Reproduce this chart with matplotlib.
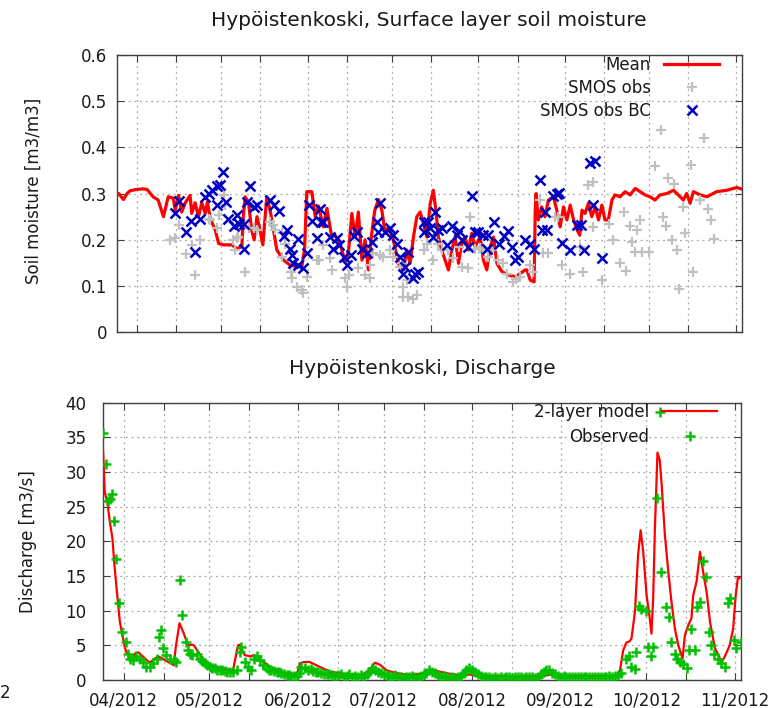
import datetime
import numpy as np
import matplotlib
matplotlib.use("Agg")
import matplotlib.pyplot as plt
import matplotlib.dates as mdates

plt.rcParams['font.family'] = ['DejaVu Sans']
plt.rcParams['font.size'] = 12

# x values are days since 1 April 2012
start = mdates.date2num(datetime.datetime(2012, 4, 1))

# ---- top panel: surface layer soil moisture ----
mean_days = [-7.3, -6.5, -4.8, -3.5, -2.4, 0.0, 2.0, 3.6, 5.8, 7.6, 9.5, 11.2, 13.0, 13.7, 14.9,
             16.0, 17.3, 19.0, 19.6, 20.8, 22.0, 23.2, 24.4, 25.2, 26.2, 28.0, 29.2, 31.0, 34.0,
             35.7, 37.5, 38.0, 38.7, 39.9, 41.0, 41.9, 42.9, 44.0, 45.0, 45.8, 46.4, 47.6, 48.8,
             50.0, 52.4, 54.8, 57.0, 59.0, 59.9, 60.7, 62.5, 63.7, 64.9, 66.6, 67.9, 69.6, 70.8,
             72.6, 74.4, 75.6, 76.8, 78.0, 79.1, 80.4, 81.5, 82.7, 83.9, 85.0, 86.3, 87.5, 88.7,
             89.9, 91.6, 93.4, 95.2, 96.4, 97.6, 98.8, 100.0, 101.2, 102.4, 103.6, 104.8, 105.9,
             106.8, 107.7, 108.9, 110.1, 111.3, 112.5, 113.7, 114.9, 116.0, 117.2, 118.4, 119.6,
             120.8, 122.6, 123.8, 125.0, 126.2, 127.4, 128.6, 130.4, 132.7, 135.1, 136.9, 138.7,
             139.3, 140.5, 141.9, 142.3, 142.6, 143.4, 144.6, 145.8, 147.0, 148.8, 150.0, 151.2,
             152.4, 153.6, 154.8, 156.0, 157.3, 158.2, 159.0, 160.1, 161.3, 162.5, 163.7, 164.9,
             166.1, 167.2, 168.4, 169.7, 170.8, 172.6, 174.4, 176.2, 178.0, 179.8, 181.5, 183.3,
             185.1, 186.9, 189.3, 191.7, 193.4, 195.2, 196.4, 197.6, 198.8, 201.2, 203.6, 207.1,
             210.7, 214.3, 216.4]
mean_vals = [0.296, 0.300, 0.287, 0.300, 0.306, 0.309, 0.310, 0.309, 0.293, 0.286, 0.250, 0.293,
             0.290, 0.264, 0.296, 0.260, 0.280, 0.296, 0.257, 0.280, 0.250, 0.280, 0.257, 0.282,
             0.246, 0.221, 0.192, 0.189, 0.189, 0.181, 0.185, 0.250, 0.293, 0.280, 0.221, 0.200,
             0.250, 0.221, 0.189, 0.250, 0.293, 0.264, 0.221, 0.178, 0.156, 0.145, 0.142, 0.145,
             0.180, 0.304, 0.304, 0.250, 0.273, 0.228, 0.268, 0.206, 0.210, 0.192, 0.152, 0.174,
             0.257, 0.206, 0.260, 0.156, 0.200, 0.135, 0.214, 0.264, 0.287, 0.264, 0.214, 0.228,
             0.200, 0.149, 0.135, 0.178, 0.149, 0.206, 0.250, 0.260, 0.235, 0.206, 0.279, 0.307,
             0.264, 0.206, 0.178, 0.156, 0.135, 0.178, 0.206, 0.149, 0.192, 0.206, 0.178, 0.214,
             0.185, 0.206, 0.156, 0.135, 0.185, 0.206, 0.149, 0.131, 0.124, 0.120, 0.127, 0.135,
             0.135, 0.113, 0.109, 0.264, 0.300, 0.243, 0.271, 0.250, 0.286, 0.293, 0.264, 0.228,
             0.271, 0.243, 0.275, 0.243, 0.221, 0.210, 0.264, 0.257, 0.279, 0.250, 0.271, 0.243,
             0.275, 0.243, 0.243, 0.286, 0.297, 0.293, 0.304, 0.297, 0.311, 0.304, 0.297, 0.293,
             0.286, 0.297, 0.300, 0.307, 0.297, 0.286, 0.300, 0.279, 0.304, 0.297, 0.293, 0.304,
             0.307, 0.313, 0.309]

smos_days = [11.9, 13.7, 14.9, 17.6, 19.6, 20.8, 22.6, 25.6, 26.2, 28.6, 29.2, 31.0, 31.5, 34.5,
             35.1, 35.7, 36.3, 38.5, 39.9, 41.7, 42.9, 47.6, 48.8, 49.4, 51.8, 51.8, 53.0, 55.1,
             55.4, 57.1, 58.9, 59.5, 60.7, 64.3, 64.9, 66.6, 69.0, 69.6, 74.4, 75.0, 75.6, 79.1,
             81.5, 83.3, 83.3, 84.5, 86.9, 88.0, 90.5, 91.6, 94.0, 94.6, 95.2, 95.2, 96.4, 97.0,
             98.8, 100.0, 102.4, 103.6, 105.9, 107.7, 108.9, 111.3, 113.1, 114.9, 116.0, 118.4,
             119.0, 120.8, 122.5, 123.8, 125.6, 126.8, 129.1, 130.9, 132.1, 134.5, 135.5, 136.9,
             140.5, 141.6, 144.0, 145.2, 147.0, 149.4, 150.6, 151.8, 154.8, 158.3, 159.5, 161.3,
             163.1, 163.1, 166.1, 168.8, 170.2, 172.6, 174.0, 174.8, 176.2, 176.8, 178.0, 178.8,
             179.8, 180.4, 183.1, 185.1, 187.1, 188.1, 188.9, 189.9, 191.1, 191.9, 193.1, 193.8,
             195.0, 195.8, 197.9, 198.8, 201.2, 202.7, 204.1, 205.0, 206.2]
smos_vals = [0.200, 0.203, 0.232, 0.169, 0.189, 0.124, 0.200, 0.246, 0.243, 0.225, 0.253, 0.297,
             0.275, 0.200, 0.178, 0.203, 0.206, 0.131, 0.225, 0.225, 0.221, 0.239, 0.232, 0.221,
             0.163, 0.214, 0.192, 0.131, 0.117, 0.098, 0.091, 0.084, 0.120, 0.156, 0.156, 0.189,
             0.160, 0.135, 0.117, 0.098, 0.124, 0.138, 0.124, 0.145, 0.117, 0.171, 0.167, 0.163,
             0.178, 0.163, 0.142, 0.149, 0.098, 0.077, 0.113, 0.077, 0.073, 0.081, 0.178, 0.192,
             0.156, 0.192, 0.178, 0.178, 0.160, 0.185, 0.142, 0.138, 0.250, 0.181, 0.183, 0.178,
             0.163, 0.178, 0.156, 0.149, 0.127, 0.109, 0.115, 0.120, 0.145, 0.131, 0.286, 0.171,
             0.171, 0.250, 0.250, 0.145, 0.127, 0.185, 0.131, 0.318, 0.325, 0.228, 0.113, 0.235,
             0.200, 0.149, 0.260, 0.133, 0.230, 0.196, 0.174, 0.222, 0.243, 0.174, 0.174, 0.359,
             0.438, 0.250, 0.230, 0.333, 0.200, 0.320, 0.178, 0.093, 0.271, 0.214, 0.361, 0.131,
             0.286, 0.419, 0.266, 0.243, 0.201]

bc_days = [13.7, 14.9, 17.6, 19.4, 20.8, 22.6, 24.4, 25.6, 26.8, 28.6, 28.6, 29.8, 30.7, 31.8,
           32.7, 34.8, 35.7, 36.6, 38.1, 38.3, 39.5, 40.5, 41.9, 42.9, 47.4, 49.0, 50.6, 52.7,
           53.6, 54.8, 55.4, 55.9, 57.7, 57.7, 59.3, 60.7, 61.6, 62.5, 64.5, 65.5, 65.7, 66.6,
           69.0, 70.2, 71.4, 72.2, 74.1, 75.0, 76.5, 77.4, 78.6, 80.4, 82.1, 83.9, 85.7, 86.3,
           86.9, 88.7, 90.5, 91.6, 92.9, 94.0, 94.9, 95.8, 96.8, 98.8, 99.4, 100.6, 102.4, 102.4,
           104.1, 104.8, 105.9, 106.5, 107.7, 108.9, 110.7, 112.5, 114.3, 115.1, 116.0, 118.4,
           119.6, 120.8, 122.0, 123.8, 125.0, 125.6, 127.7, 129.4, 131.3, 132.5, 133.9, 135.1,
           136.3, 138.7, 140.5, 141.9, 144.0, 144.6, 145.8, 146.4, 148.8, 150.0, 150.9, 151.8,
           154.8, 157.1, 158.6, 159.8, 161.9, 162.9, 163.7, 166.1]
bc_vals = [0.257, 0.284, 0.217, 0.240, 0.174, 0.246, 0.293, 0.300, 0.307, 0.316, 0.275, 0.318,
           0.347, 0.282, 0.244, 0.230, 0.253, 0.234, 0.235, 0.180, 0.281, 0.317, 0.271, 0.275,
           0.287, 0.275, 0.263, 0.208, 0.221, 0.181, 0.167, 0.149, 0.201, 0.145, 0.138, 0.171,
           0.275, 0.241, 0.203, 0.266, 0.239, 0.239, 0.206, 0.181, 0.203, 0.189, 0.163, 0.145,
           0.167, 0.208, 0.217, 0.181, 0.171, 0.196, 0.239, 0.217, 0.280, 0.217, 0.225, 0.210,
           0.192, 0.163, 0.127, 0.142, 0.174, 0.117, 0.127, 0.131, 0.239, 0.217, 0.239, 0.225,
           0.206, 0.260, 0.221, 0.225, 0.189, 0.230, 0.210, 0.219, 0.200, 0.185, 0.294, 0.217,
           0.217, 0.210, 0.181, 0.210, 0.239, 0.191, 0.208, 0.219, 0.184, 0.156, 0.163, 0.200,
           0.192, 0.181, 0.330, 0.221, 0.260, 0.221, 0.294, 0.300, 0.301, 0.194, 0.178, 0.232,
           0.232, 0.179, 0.366, 0.275, 0.371, 0.160]

# ---- bottom panel: discharge ----
model_days = [-7.4, -7.2, -6.9, -6.7, -5.8, -4.9, -4.0, -3.2, -2.3, -1.4, -0.5, 0.4, 1.5, 2.7,
              4.2, 5.0, 6.2, 7.9, 9.1, 10.5, 12.0, 13.5, 15.5, 17.0, 17.5, 18.2, 19.5, 21.0,
              22.5, 24.0, 24.5, 26.5, 28.5, 32.0, 35.5, 38.2, 39.0, 40.0, 40.6, 42.3, 44.5, 45.5,
              47.0, 49.0, 52.0, 56.5, 60.5, 61.7, 63.0, 65.1, 68.6, 72.2, 75.7, 79.0, 82.7, 85.6,
              87.9, 89.7, 92.0, 95.5, 100.2, 104.8, 107.8, 110.7, 114.2, 118.8, 121.0, 124.0,
              135.2, 146.9, 150.0, 155.0, 172.6, 173.7, 174.9, 176.0, 177.2, 177.8, 179.0, 180.1,
              181.0, 181.9, 183.1, 184.2, 184.8, 185.4, 186.0, 186.6, 186.9, 187.7, 188.3, 189.5,
              190.7, 191.8, 193.0, 194.2, 195.7, 196.5, 197.7, 198.8, 199.4, 200.6, 201.8, 202.9,
              204.1, 205.3, 207.0, 209.4, 210.5, 212.2, 213.4, 214.3, 215.1, 215.7]
model_vals = [34.0, 32.4, 29.3, 27.1, 25.7, 22.8, 20.4, 16.1, 12.2, 8.4, 6.5, 4.6, 3.5, 3.3,
              3.9, 4.0, 3.6, 2.9, 2.5, 3.0, 3.4, 3.1, 2.6, 2.3, 2.1, 4.8, 8.2, 6.7,
              5.0, 5.1, 5.0, 3.8, 2.6, 1.9, 1.6, 1.3, 3.0, 5.0, 5.1, 3.6, 3.4, 3.6,
              3.3, 2.6, 1.7, 1.0, 0.7, 2.4, 2.6, 2.6, 1.9, 1.2, 1.0, 0.8, 0.7, 1.2,
              2.5, 2.2, 1.4, 1.0, 0.7, 1.0, 1.5, 1.2, 0.9, 0.6, 0.8, 0.6,
              0.5, 0.6, 0.8, 0.6, 0.6, 1.2, 4.3, 5.4, 5.6, 6.0, 9.8, 18.0,
              21.6, 18.5, 12.2, 8.9, 6.7, 11.8, 21.9, 29.1, 32.8, 31.7, 28.6, 20.9,
              15.6, 11.3, 7.4, 5.0, 3.1, 6.5, 7.9, 8.9, 12.2, 14.2, 18.5, 15.6,
              12.7, 8.4, 4.6, 2.6, 3.4, 5.0, 7.4, 12.2, 14.9, 14.7]

obs_days = [-7.2, -6.3, -5.6, -5.0, -4.2, -3.5, -2.6, -1.6, -0.5, 0.6, 1.4, 2.3, 3.3, 4.4, 5.6,
            6.8, 7.9, 9.1, 10.3, 11.5, 12.4, 13.0, 13.8, 14.9, 16.2, 17.4, 18.4, 19.6, 20.5,
            21.7, 22.5, 23.3, 24.0, 25.5, 26.6, 27.5, 28.4, 29.2, 30.1, 31.0, 31.9, 32.8, 33.6,
            34.5, 35.4, 36.3, 37.1, 38.3, 39.5, 40.6, 41.2, 42.4, 43.5, 44.7, 45.5, 46.5, 47.6,
            48.8, 50.0, 50.8, 51.7, 52.6, 53.5, 54.4, 55.2, 56.1, 57.0, 57.9, 58.7, 59.6, 60.5,
            61.3, 62.2, 63.4, 64.6, 65.5, 66.3, 67.2, 68.1,
            69, 70, 71, 72, 73, 74, 75, 76, 77, 78, 79, 80, 81, 82, 83, 84, 85, 86, 87, 88, 89,
            90, 91, 92, 93, 94, 95, 96, 97, 98, 99, 100, 101, 102, 103, 104, 105, 106, 107, 108,
            109, 110, 111, 112, 113, 114, 115, 116, 117, 118, 119, 120, 121, 122, 123, 124, 125,
            126, 127, 128, 129, 130, 131, 132, 133, 134, 135, 136, 137, 138, 139, 140, 141, 142,
            143, 144, 145, 146, 147, 148, 149, 150, 151, 152, 153, 154, 155, 156, 157, 158, 159,
            160, 161, 162, 163, 164, 165, 166, 167, 168, 169, 170, 171, 172, 173,
            174.3, 175.8, 176.9, 177.8, 179.0, 179.5, 180.4, 181.3, 182.8, 183.6, 184.8, 185.4,
            186.6, 187.7, 188.3, 189.8, 190.9, 191.8, 193.0, 193.8, 194.7, 195.7, 197.1, 198.0,
            198.8, 200.0, 200.6, 201.8, 202.7, 203.9, 205.0, 205.5, 206.7, 208.0, 209.2, 210.4,
            211.6, 212.4, 213.6, 214.5, 216.2]
obs_vals = [35.7, 31.1, 25.8, 26.1, 26.9, 22.9, 17.4, 11.1, 6.9, 5.5, 3.8, 3.1, 2.9, 3.4, 3.1,
            2.6, 1.9, 1.9, 2.4, 3.1, 6.2, 7.2, 4.6, 3.6, 3.1, 2.9, 2.6, 14.5, 9.4,
            5.5, 4.3, 3.8, 3.6, 3.8, 3.1, 2.7, 2.4, 2.1, 1.9, 1.8, 1.7, 1.5, 1.4,
            1.4, 1.3, 1.2, 1.2, 1.2, 1.4, 4.1, 4.8, 2.6, 1.9, 1.4, 3.1, 3.4, 2.9,
            2.2, 1.7, 1.5, 1.4, 1.3, 1.2, 1.1, 1.0, 0.9, 0.7, 0.7, 0.6, 0.6, 0.6,
            1.0, 1.9, 1.7, 1.4, 1.6, 1.3, 1.2, 1.2,
            1.0, 0.9, 0.8, 0.9, 0.7, 0.6, 0.7, 0.8, 0.5, 0.6, 0.8, 0.5, 0.6, 0.4, 0.7, 0.5, 0.9,
            1.1, 1.7, 1.4, 1.2, 1.0, 0.8, 0.7, 0.6, 0.5, 0.7, 0.4, 0.5, 0.3, 0.5, 0.4, 0.6, 0.5,
            0.3, 0.6, 0.8, 1.0, 1.4, 1.2, 1.0, 0.7, 0.5, 0.6, 0.4, 0.3, 0.5, 0.3, 0.4, 0.6, 1.0,
            1.5, 1.8, 1.4, 1.1, 0.8, 0.6, 0.5, 0.4, 0.5, 0.3, 0.4, 0.3, 0.5, 0.3, 0.4, 0.5, 0.3,
            0.4, 0.5, 0.4, 0.3, 0.4, 0.5, 0.4, 0.3, 0.5, 0.8, 1.1, 1.5, 1.4, 1.0, 0.8, 0.6, 0.5,
            0.6, 0.4, 0.5, 0.4, 0.5, 0.4, 0.5, 0.4, 0.5, 0.4, 0.5, 0.4, 0.5, 0.4, 0.5, 0.4, 0.6,
            0.5, 0.6, 0.7,
            1.0, 3.1, 3.4, 1.9, 1.6, 4.0, 10.7, 10.3, 9.9, 4.8, 3.4, 4.8,
            26.3, 38.6, 15.6, 10.6, 9.1, 5.5, 3.8, 3.1, 2.6, 2.3, 1.8, 4.3,
            7.4, 4.3, 10.5, 11.3, 17.1, 14.9, 7.0, 5.0, 3.8, 3.1, 2.4, 1.9,
            11.1, 11.8, 5.8, 4.6, 5.5]

tick_days = [0, 14, 30, 44, 61, 75, 91, 105, 122, 136, 153, 167, 183, 197, 214]
tick_labels = ['04/2012', '', '05/2012', '', '06/2012', '', '07/2012', '', '08/2012', '',
               '09/2012', '', '10/2012', '', '11/2012']

sm_ticks = [0, 0.1, 0.2, 0.3, 0.4, 0.5, 0.6]
sm_labels = ['0', '0.1', '0.2', '0.3', '0.4', '0.5', '0.6']
q_ticks = [0, 5, 10, 15, 20, 25, 30, 35, 40]

xlim = (start - 7.2, start + 216.05)
txt = '#1a1a1a'


def style(ax, ypad):
    ax.grid(True, color='#a8a8a8', linestyle=(0, (1.5, 3)), linewidth=0.9)
    ax.set_axisbelow(True)
    ax.tick_params(direction='in', top=True, right=True, length=5, width=0.8,
                   colors='#404040', labelcolor=txt, labelsize=12)
    ax.tick_params(axis='y', pad=ypad)
    ax.tick_params(axis='x', pad=8)
    for s in ax.spines.values():
        s.set_color('#404040')
        s.set_linewidth(1.0)
    ax.set_xlim(*xlim)
    ax.set_xticks(start + np.array(tick_days))


fig = plt.figure(figsize=(7.76, 7.08), dpi=100)

ax1 = fig.add_axes([0.1504, 0.5306, 0.8054, 0.3921])
ax1.plot(start + np.array(mean_days), mean_vals, color='#ff0000', lw=2.3, label='Mean', zorder=3)
ax1.plot(start + np.array(smos_days), smos_vals, ls='none', marker='+', ms=7.5, mew=1.6,
         color='#c0c0c0', label='SMOS obs', zorder=4)
ax1.plot(start + np.array(bc_days), bc_vals, ls='none', marker='x', ms=6.5, mew=1.8,
         color='#0000c0', label='SMOS obs BC', zorder=5)
style(ax1, 7)
ax1.set_xticklabels([])
ax1.set_ylim(0, 0.6)
ax1.set_yticks(sm_ticks)
ax1.set_yticklabels(sm_labels)
ax1.set_ylabel('Soil moisture [m3/m3]', color=txt, fontsize=12)
ax1.yaxis.set_label_coords(-0.118, 0.51)
ax1.set_title('Hypöistenkoski, Surface layer soil moisture', fontsize=14.5, color=txt, pad=21)
ax1.legend(loc='upper right', bbox_to_anchor=(0.964, 0.995), markerfirst=False, frameon=False,
           borderpad=0, borderaxespad=0, handlelength=3.3, handletextpad=0.8,
           labelspacing=0.3, fontsize=12, labelcolor=txt)

ax2 = fig.add_axes([0.1331, 0.0395, 0.8214, 0.3917])
ax2.plot(start + np.array(model_days), model_vals, color='#ff0000', lw=1.6,
         label='2-layer model', zorder=3)
ax2.plot(start + np.array(obs_days), obs_vals, ls='none', marker='+', ms=7.5, mew=1.8,
         color='#00c000', label='Observed', zorder=4)
style(ax2, 12)
ax2.set_xticklabels(tick_labels)
ax2.set_ylim(0, 40)
ax2.set_yticks(q_ticks)
ax2.set_ylabel('Discharge [m3/s]', color=txt, fontsize=12)
ax2.yaxis.set_label_coords(-0.104, 0.5)
ax2.set_title('Hypöistenkoski, Discharge', fontsize=14.5, color=txt, pad=20.5)
ax2.legend(loc='upper right', bbox_to_anchor=(0.963, 0.998), markerfirst=False, frameon=False,
           borderpad=0, borderaxespad=0, handlelength=3.3, handletextpad=0.8,
           labelspacing=0.4, fontsize=12, labelcolor=txt)

# clipped tick label remnant at the far left of the bottom axis
fig.text(0.0, 0.0145, '2', fontsize=12, color=txt, ha='left', va='baseline')

fig.savefig('out.png', dpi=100)
